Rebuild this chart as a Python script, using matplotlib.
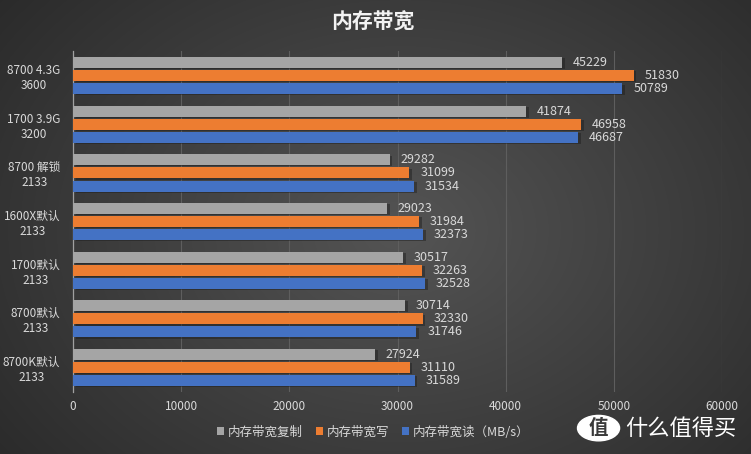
import numpy as np
from matplotlib import pyplot as plt
from matplotlib.patches import Circle

plt.rcParams['font.family'] = ['Noto Sans CJK SC', 'DejaVu Sans']

# data (top to bottom)
configs = ["8700 4.3G\n3600", "1700 3.9G\n3200", "8700 解锁\n2133", "1600X默认\n2133",
           "1700默认\n2133", "8700默认\n2133", "8700K默认\n2133"]
copy_bw = [45229, 41874, 29282, 29023, 30517, 30714, 27924]
write_bw = [51830, 46958, 31099, 31984, 32263, 32330, 31110]
read_bw = [50789, 46687, 31534, 32373, 32528, 31746, 31589]
series_names = ["内存带宽复制", "内存带宽写", "内存带宽读（MB/s）"]
colors = ["#a5a5a5", "#ed7d31", "#4472c4"]
txt_col = "#d9d9d9"

fig = plt.figure(figsize=(7.51, 4.54), dpi=100)

# radial gradient background
bg = fig.add_axes([0, 0, 1, 1], zorder=-10)
yy, xx = np.mgrid[0:454, 0:751]
r = np.sqrt(((xx - 400) / 560.0) ** 2 + ((yy - 230) / 420.0) ** 2)
shade = np.clip(0.33 - 0.18 * r, 0.14, 0.33)
bg.imshow(np.dstack([shade] * 3), aspect="auto", extent=[0, 1, 0, 1])
bg.axis("off")

ax = fig.add_axes([0.0972, 0.137, 0.8642, 0.750])
ax.patch.set_alpha(0)

y = np.arange(len(configs))
h = 0.225
off = 0.27
for vals, col, dy, name in zip([copy_bw, write_bw, read_bw], colors, [-off, 0, off], series_names):
    # faint shadow under each bar
    ax.barh(y + dy + 0.025, vals, height=h, left=250, color="#1c1c1c", alpha=0.45, zorder=2)
    bars = ax.barh(y + dy, vals, height=h, color=col, label=name, zorder=3)
    for b, v in zip(bars, vals):
        ax.text(v + 1000, b.get_y() + b.get_height() / 2, str(v), va="center", ha="left",
                fontsize=9, color=txt_col, zorder=4)

ax.set_ylim(len(configs) - 0.5, -0.5)
ax.set_xlim(0, 60000)
ax.set_xticks(range(0, 60001, 10000))
ax.set_yticks(y)
ax.set_yticklabels(configs, fontsize=8.5, color=txt_col, multialignment="center")
ax.tick_params(axis="x", colors=txt_col, labelsize=8.5, length=0, pad=6)
ax.tick_params(axis="y", length=0, pad=9)
ax.grid(axis="x", color="#5e5e5e", linewidth=0.8, zorder=0)
for s in ["top", "right", "bottom"]:
    ax.spines[s].set_visible(False)
ax.spines["left"].set_color("#a0a0a0")
ax.spines["left"].set_linewidth(0.9)

fig.text(0.497, 0.952, "内存带宽", ha="center", va="center", fontsize=15,
         fontweight="bold", color="#f2f2f2")

leg = fig.legend(loc="center", bbox_to_anchor=(0.497, 0.048), ncol=3, frameon=False,
                 fontsize=9, handlelength=0.6, handleheight=0.6, handletextpad=0.3,
                 columnspacing=1.0)
for t in leg.get_texts():
    t.set_color(txt_col)

# watermark
bg.add_patch(Circle((0.797, 0.057), 0.028, transform=bg.transAxes, color="white", zorder=5))
bg.text(0.797, 0.057, "值", ha="center", va="center", fontsize=14, fontweight="bold",
        color="#3a3a3a", transform=bg.transAxes, zorder=6)
bg.text(0.832, 0.057, "什么值得买", ha="left", va="center", fontsize=16,
        color="white", transform=bg.transAxes, zorder=6)

fig.savefig("out.png", dpi=100)
